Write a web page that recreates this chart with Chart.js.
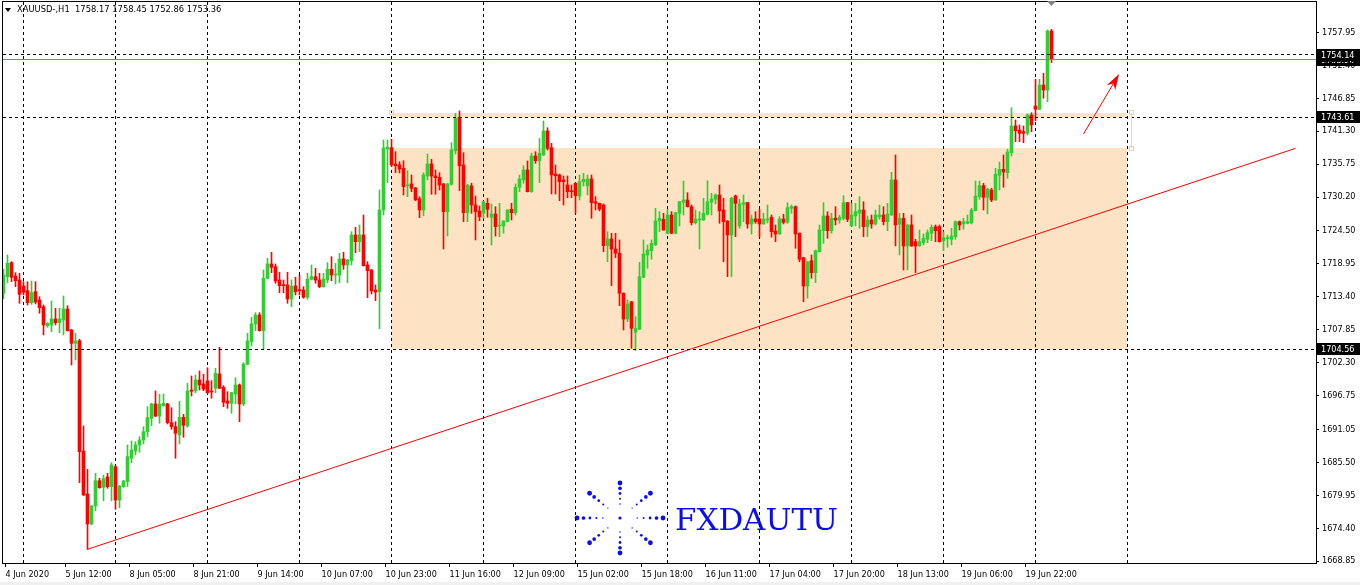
<!DOCTYPE html>
<html>
<head>
<meta charset="utf-8">
<title>XAUUSD-,H1</title>
<script src="https://cdn.jsdelivr.net/npm/chart.js@4.4.1/dist/chart.umd.min.js"></script>
<style>
  html, body { margin: 0; padding: 0; background: #fff; }
  #wrap { width: 1360px; height: 585px; }
</style>
</head>
<body>
<div id="wrap"><canvas id="xauChart" width="1360" height="585"></canvas></div>
<script>
// H1 candles, one entry per bar (bar 0 = 4 Jun 2020 late, last bar = 19 Jun 22:00)
const opens = [
  1713.98, 1716.78, 1719.14, 1716.89, 1716.22, 1715.21, 1714.42, 1712.40, 1714.25, 1712.85,
  1711.72, 1708.52, 1708.64, 1709.65, 1709.03, 1709.48, 1711.33, 1707.79, 1705.55, 1705.99,
  1687.41, 1680.16, 1675.11, 1678.14, 1682.40, 1681.29, 1683.03, 1681.39, 1684.76, 1679.15,
  1681.39, 1682.23, 1686.18, 1687.41, 1688.42, 1689.26, 1690.66, 1692.92, 1695.33, 1693.30,
  1695.04, 1695.33, 1692.18, 1691.50, 1690.10, 1693.08, 1691.62, 1697.68, 1697.57, 1699.37,
  1698.70, 1699.20, 1697.52, 1697.97, 1700.38, 1698.14, 1695.83, 1695.44, 1697.01, 1698.53,
  1695.33, 1702.02, 1705.82, 1708.81, 1710.32, 1707.68, 1716.51, 1718.92, 1718.46, 1716.22,
  1715.43, 1715.38, 1713.02, 1715.21, 1714.53, 1714.53, 1713.31, 1716.34, 1716.78, 1716.22,
  1715.09, 1716.22, 1718.02, 1717.06, 1717.06, 1719.76, 1718.75, 1719.47, 1723.80, 1722.67,
  1723.80, 1718.75, 1717.90, 1714.53, 1714.25, 1728.01, 1738.29, 1738.51, 1735.77, 1735.60,
  1735.04, 1732.11, 1732.40, 1731.72, 1729.92, 1728.01, 1733.74, 1735.77, 1733.74, 1733.52,
  1732.40, 1727.73, 1732.35, 1738.01, 1743.63, 1735.60, 1727.56, 1732.06, 1728.86, 1727.85,
  1727.46, 1729.14, 1726.79, 1727.34, 1725.32, 1725.32, 1726.04, 1728.13, 1727.56, 1731.84,
  1733.07, 1734.75, 1731.10, 1737.11, 1736.32, 1737.28, 1741.33, 1738.51, 1734.08, 1733.91,
  1733.07, 1732.23, 1731.27, 1732.51, 1730.37, 1732.78, 1732.06, 1733.24, 1729.41, 1729.14,
  1728.86, 1722.00, 1723.13, 1721.44, 1720.72, 1713.98, 1709.65, 1712.56, 1707.41, 1707.91,
  1716.68, 1720.43, 1721.16, 1722.12, 1726.16, 1726.45, 1724.09, 1727.17, 1724.09, 1727.46,
  1729.31, 1729.70, 1728.57, 1725.87, 1726.33, 1726.33, 1727.29, 1729.31, 1729.82, 1730.54,
  1728.01, 1726.16, 1723.80, 1730.37, 1725.32, 1728.97, 1729.25, 1725.66, 1726.50, 1726.50,
  1725.66, 1726.33, 1726.79, 1724.48, 1723.97, 1726.50, 1725.94, 1728.30, 1728.57, 1724.09,
  1719.98, 1715.21, 1719.47, 1717.45, 1720.99, 1724.53, 1727.00, 1724.53, 1726.62, 1726.33,
  1726.62, 1729.25, 1725.32, 1727.00, 1727.46, 1728.01, 1725.20, 1726.33, 1725.66, 1726.89,
  1727.17, 1726.04, 1727.17, 1733.07, 1725.61, 1726.62, 1721.95, 1725.49, 1722.67, 1721.95,
  1722.51, 1723.08, 1724.09, 1725.20, 1725.20, 1722.84, 1723.18, 1723.08, 1723.52, 1726.04,
  1725.66, 1725.77, 1725.87, 1727.90, 1730.26, 1732.11, 1730.15, 1731.38, 1729.70, 1733.86,
  1734.87, 1734.30, 1737.67, 1742.17, 1741.49, 1741.21, 1740.94, 1744.02, 1745.54, 1744.98,
  1749.08, 1748.23, 1758.17
];
const highs = [
  1718.02, 1720.43, 1719.30, 1717.45, 1717.35, 1715.93, 1715.93, 1716.05, 1715.93, 1713.41,
  1712.01, 1709.03, 1712.68, 1711.45, 1711.45, 1713.52, 1711.89, 1707.90, 1707.24, 1706.23,
  1691.62, 1684.32, 1678.20, 1683.65, 1682.81, 1683.36, 1683.65, 1685.44, 1684.90, 1681.60,
  1682.45, 1688.42, 1689.09, 1688.97, 1689.82, 1691.50, 1694.87, 1695.44, 1697.52, 1696.96,
  1697.01, 1695.44, 1694.70, 1692.34, 1695.78, 1693.59, 1698.81, 1700.04, 1700.21, 1700.89,
  1700.33, 1701.44, 1699.25, 1701.34, 1704.88, 1698.41, 1697.40, 1697.30, 1699.76, 1698.70,
  1702.29, 1707.24, 1709.93, 1710.71, 1710.71, 1717.90, 1719.88, 1720.89, 1718.92, 1717.52,
  1716.22, 1717.52, 1716.22, 1716.68, 1717.06, 1715.09, 1717.35, 1718.75, 1718.19, 1717.35,
  1717.35, 1719.14, 1720.15, 1719.03, 1720.72, 1720.89, 1719.70, 1724.36, 1725.10, 1725.49,
  1727.17, 1719.30, 1718.00, 1715.38, 1731.39, 1739.81, 1739.81, 1739.93, 1737.84, 1736.15,
  1736.32, 1734.64, 1733.91, 1731.80, 1730.26, 1734.30, 1737.45, 1736.56, 1734.75, 1734.30,
  1732.50, 1732.50, 1739.36, 1744.31, 1744.70, 1737.67, 1732.30, 1732.51, 1730.37, 1728.69,
  1729.50, 1729.99, 1729.03, 1728.57, 1729.14, 1726.20, 1728.05, 1729.14, 1732.40, 1733.91,
  1735.48, 1736.27, 1737.57, 1737.84, 1740.10, 1743.01, 1741.88, 1739.25, 1735.60, 1734.08,
  1733.74, 1733.74, 1732.23, 1732.60, 1733.91, 1734.20, 1733.91, 1733.91, 1730.26, 1729.20,
  1729.03, 1724.36, 1724.09, 1724.09, 1722.96, 1714.05, 1712.85, 1712.60, 1710.04, 1719.20,
  1722.96, 1722.12, 1722.96, 1728.30, 1727.73, 1727.46, 1728.13, 1727.73, 1727.60, 1729.45,
  1732.90, 1730.93, 1728.86, 1728.01, 1727.73, 1729.99, 1732.95, 1730.83, 1730.71, 1732.23,
  1729.99, 1726.20, 1730.15, 1730.54, 1729.82, 1730.54, 1729.30, 1727.17, 1727.73, 1728.13,
  1727.46, 1728.86, 1727.17, 1725.49, 1726.89, 1727.29, 1729.25, 1728.86, 1728.69, 1724.15,
  1720.05, 1719.35, 1720.43, 1721.27, 1725.49, 1729.25, 1727.73, 1727.46, 1728.57, 1727.17,
  1730.42, 1729.30, 1729.14, 1729.14, 1730.26, 1729.41, 1727.00, 1727.17, 1728.01, 1728.86,
  1728.57, 1729.14, 1734.37, 1737.28, 1727.46, 1727.46, 1725.55, 1727.17, 1723.08, 1724.64,
  1723.97, 1724.64, 1725.49, 1725.49, 1725.49, 1724.36, 1723.80, 1724.93, 1726.16, 1726.16,
  1726.62, 1727.17, 1728.30, 1732.90, 1732.90, 1732.51, 1731.67, 1731.67, 1735.04, 1736.10,
  1737.28, 1738.24, 1745.25, 1743.18, 1742.34, 1742.17, 1744.19, 1744.41, 1750.04, 1750.04,
  1751.05, 1758.35, 1758.45
];
const lows = [
  1713.07, 1715.77, 1715.93, 1715.09, 1712.29, 1713.69, 1712.01, 1712.13, 1712.18, 1710.61,
  1706.95, 1708.25, 1707.51, 1708.64, 1707.34, 1706.95, 1707.60, 1701.90, 1702.74, 1682.07,
  1679.90, 1670.84, 1675.00, 1677.35, 1681.12, 1679.03, 1681.12, 1679.03, 1677.58, 1677.85,
  1681.30, 1681.39, 1685.44, 1686.73, 1687.19, 1688.59, 1689.82, 1691.67, 1693.19, 1692.07,
  1694.95, 1691.96, 1691.06, 1686.18, 1688.59, 1689.71, 1691.40, 1696.67, 1697.23, 1697.68,
  1697.57, 1697.01, 1696.29, 1697.23, 1697.90, 1694.87, 1694.60, 1693.76, 1695.33, 1692.34,
  1695.04, 1701.95, 1705.10, 1707.68, 1707.60, 1704.54, 1716.40, 1717.45, 1715.66, 1714.08,
  1714.08, 1712.29, 1711.72, 1713.69, 1713.69, 1713.14, 1712.97, 1716.22, 1715.66, 1714.92,
  1715.00, 1715.77, 1716.10, 1715.55, 1715.77, 1718.02, 1715.77, 1718.75, 1720.82, 1720.99,
  1718.55, 1713.24, 1713.86, 1712.73, 1708.00, 1727.17, 1732.62, 1735.31, 1734.30, 1734.25,
  1730.54, 1730.26, 1731.10, 1729.60, 1726.72, 1727.05, 1733.07, 1730.66, 1730.66, 1731.38,
  1721.44, 1723.63, 1732.20, 1737.45, 1731.27, 1726.04, 1726.04, 1727.46, 1722.96, 1726.21,
  1726.62, 1726.79, 1722.12, 1723.63, 1723.52, 1724.09, 1726.00, 1726.33, 1727.17, 1731.10,
  1732.51, 1731.05, 1731.00, 1735.88, 1732.62, 1737.20, 1738.12, 1730.71, 1730.71, 1729.58,
  1728.86, 1730.09, 1730.09, 1727.46, 1729.70, 1732.06, 1730.54, 1726.62, 1728.01, 1727.85,
  1720.99, 1719.30, 1715.26, 1719.98, 1711.89, 1707.79, 1709.19, 1704.71, 1704.31, 1707.85,
  1716.60, 1718.19, 1719.71, 1722.05, 1724.36, 1724.60, 1724.00, 1724.00, 1724.00, 1725.32,
  1727.17, 1728.50, 1725.49, 1725.66, 1721.44, 1726.25, 1727.17, 1727.17, 1729.03, 1725.77,
  1719.30, 1716.78, 1716.78, 1723.52, 1724.93, 1726.04, 1724.93, 1723.97, 1725.77, 1723.42,
  1725.60, 1725.82, 1723.42, 1722.67, 1723.90, 1725.66, 1725.77, 1727.46, 1721.56, 1719.30,
  1712.56, 1713.14, 1716.51, 1715.77, 1720.90, 1722.40, 1723.25, 1724.09, 1725.49, 1725.77,
  1726.33, 1726.04, 1725.25, 1725.32, 1724.93, 1723.52, 1723.52, 1724.93, 1725.49, 1726.45,
  1725.49, 1724.53, 1727.10, 1721.95, 1720.43, 1717.90, 1717.90, 1721.90, 1717.45, 1721.90,
  1722.12, 1722.51, 1722.84, 1722.67, 1722.60, 1721.16, 1721.73, 1722.12, 1723.08, 1724.64,
  1724.76, 1725.66, 1725.66, 1727.85, 1729.82, 1728.01, 1727.34, 1729.41, 1729.65, 1731.38,
  1731.84, 1733.36, 1737.11, 1739.52, 1739.52, 1739.35, 1740.65, 1741.21, 1743.06, 1744.90,
  1746.84, 1746.26, 1752.86
];
const closes = [
  1717.06, 1719.03, 1716.68, 1716.10, 1713.81, 1714.15, 1712.40, 1714.08, 1712.51, 1711.55,
  1708.64, 1708.92, 1709.65, 1709.03, 1709.65, 1711.33, 1707.68, 1705.55, 1705.94, 1687.29,
  1679.99, 1675.11, 1678.14, 1682.40, 1681.22, 1682.74, 1681.39, 1685.05, 1679.15, 1681.51,
  1682.35, 1686.45, 1687.57, 1688.42, 1689.26, 1690.66, 1693.02, 1695.33, 1693.30, 1695.28,
  1695.44, 1692.18, 1691.50, 1690.39, 1693.08, 1691.74, 1697.52, 1697.47, 1699.37, 1698.53,
  1697.85, 1697.23, 1697.35, 1700.50, 1697.97, 1695.61, 1695.44, 1697.23, 1698.53, 1695.33,
  1702.07, 1705.94, 1708.81, 1710.32, 1707.68, 1716.51, 1718.92, 1718.36, 1716.05, 1715.26,
  1715.26, 1713.02, 1715.21, 1714.25, 1714.42, 1713.31, 1716.39, 1716.78, 1716.22, 1715.09,
  1716.39, 1718.02, 1717.06, 1717.23, 1719.76, 1718.75, 1719.59, 1723.80, 1722.67, 1723.80,
  1718.63, 1717.79, 1714.37, 1714.20, 1728.01, 1738.46, 1738.58, 1735.60, 1735.48, 1734.92,
  1731.94, 1732.28, 1731.67, 1729.70, 1728.01, 1733.91, 1735.77, 1733.74, 1733.46, 1732.23,
  1727.73, 1732.40, 1738.12, 1743.47, 1735.48, 1727.56, 1732.23, 1728.86, 1727.73, 1726.89,
  1729.41, 1728.13, 1727.34, 1725.20, 1725.49, 1726.16, 1728.01, 1727.56, 1731.84, 1733.24,
  1734.75, 1731.10, 1737.11, 1736.32, 1737.57, 1741.33, 1738.41, 1733.91, 1733.80, 1732.78,
  1732.78, 1731.10, 1731.10, 1730.42, 1732.78, 1733.19, 1733.24, 1729.25, 1729.14, 1728.18,
  1722.00, 1723.13, 1721.44, 1720.72, 1713.98, 1709.65, 1712.18, 1708.08, 1708.08, 1716.78,
  1720.60, 1721.27, 1722.40, 1726.16, 1726.62, 1724.64, 1727.17, 1724.09, 1727.56, 1729.41,
  1729.70, 1728.57, 1725.87, 1726.50, 1726.50, 1727.46, 1729.41, 1729.87, 1730.54, 1727.85,
  1726.04, 1723.80, 1729.99, 1729.14, 1729.03, 1729.25, 1725.66, 1726.50, 1726.04, 1725.66,
  1726.50, 1726.50, 1724.36, 1723.97, 1726.50, 1725.94, 1728.40, 1728.57, 1723.97, 1719.71,
  1715.21, 1719.30, 1717.45, 1721.16, 1724.64, 1727.00, 1724.53, 1726.62, 1726.33, 1726.79,
  1729.25, 1726.45, 1727.17, 1727.73, 1728.01, 1725.20, 1726.33, 1725.66, 1727.17, 1727.17,
  1726.04, 1727.34, 1733.07, 1725.49, 1726.62, 1721.95, 1725.49, 1721.95, 1721.95, 1722.67,
  1723.25, 1724.19, 1725.10, 1724.53, 1722.67, 1723.35, 1723.35, 1723.63, 1726.04, 1725.49,
  1726.04, 1726.04, 1728.01, 1730.37, 1732.11, 1730.15, 1731.50, 1729.70, 1734.03, 1734.87,
  1734.42, 1737.79, 1742.17, 1741.38, 1740.94, 1740.94, 1744.02, 1742.34, 1744.98, 1749.08,
  1748.23, 1758.17, 1753.36
];

// time axis labels (bar index where each label sits)
const tickBars = [0, 15, 31, 47, 63, 79, 95, 111, 127, 143, 159, 175, 191, 207, 223, 239, 255];
const tickLabels = ['4 Jun 2020', '5 Jun 12:00', '8 Jun 05:00', '8 Jun 21:00', '9 Jun 14:00',
  '10 Jun 07:00', '10 Jun 23:00', '11 Jun 16:00', '12 Jun 09:00', '15 Jun 02:00', '15 Jun 18:00',
  '16 Jun 11:00', '17 Jun 04:00', '17 Jun 20:00', '18 Jun 13:00', '19 Jun 06:00', '19 Jun 22:00'];
const priceTicks = [1757.95, 1752.40, 1746.85, 1741.30, 1735.75, 1730.20, 1724.50, 1718.95,
  1713.40, 1707.85, 1702.30, 1696.75, 1691.05, 1685.50, 1679.95, 1674.40, 1668.85];
const gridBars = [5, 28, 51, 74, 97, 120, 143, 166, 189, 212, 235, 258, 281];

// drawn objects
const levelPrices = [1754.14, 1743.61, 1704.56];
const bidPrice = 1753.36;
const trendBars = [21, 323];
const trendPrices = [1670.84, 1738.40];
const zoneBars = [96.9, 280.9];
const zonePrices = [1738.46, 1704.56];
const stripPrices = [1744.36, 1743.61];
const arrowBars = [270, 278.9];
const arrowPrices = [1740.82, 1750.93];

const FONT = "'DejaVu Sans Condensed', 'DejaVu Sans', sans-serif";
const UP = '#32cd32', DOWN = '#ff0000';
const crisp = v => Math.floor(v) + 0.5;

const barIdx = opens.map((_, i) => i);
const candleColors = barIdx.map(i => closes[i] >= opens[i] ? UP : DOWN);

function drawLogo(ctx) {
  const cx = 620, cy = 518, rx = 43, ry = 35;
  ctx.fillStyle = '#0c0cf0';
  for (let k = 0; k < 8; k++) {
    const a = k * Math.PI / 4;
    [1, 0.85, 0.7, 0.55, 0.4].forEach(t => {
      ctx.beginPath();
      ctx.arc(cx + Math.cos(a) * rx * t, cy + Math.sin(a) * ry * t, 0.4 + 2.0 * t * t, 0, Math.PI * 2);
      ctx.fill();
    });
  }
  ctx.beginPath(); ctx.arc(cx, cy, 1.6, 0, Math.PI * 2); ctx.fill();
  ctx.font = "30px 'DejaVu Serif', serif";
  ctx.textBaseline = 'alphabetic';
  const w = ctx.measureText('FXDAUTU').width;
  ctx.save();
  ctx.translate(675, 530);
  ctx.scale(163 / w, 0.97);
  ctx.fillText('FXDAUTU', 0, 0);
  ctx.restore();
}

function priceBox(ctx, yPix, text) {
  ctx.fillStyle = '#000';
  ctx.fillRect(1317, Math.round(yPix) - 6, 43, 12);
  ctx.fillStyle = '#fff';
  ctx.font = '9px ' + FONT;
  ctx.textBaseline = 'middle';
  ctx.textAlign = 'left';
  ctx.fillText(text, 1321, Math.round(yPix) + 0.5);
}

const mtDecor = {
  id: 'mtDecor',
  beforeDraw(chart) {
    const { ctx, scales: { x, y } } = chart;
    ctx.save();
    ctx.fillStyle = '#fff';
    ctx.fillRect(0, 0, chart.width, chart.height);
    ctx.fillStyle = '#f0f0f0';
    ctx.fillRect(0, chart.height - 3, chart.width, 3);
    // support / resistance zone
    ctx.fillStyle = '#fde3c4';
    const zx0 = x.getPixelForValue(zoneBars[0]), zx1 = x.getPixelForValue(zoneBars[1]);
    let y0 = y.getPixelForValue(zonePrices[0]), y1 = y.getPixelForValue(zonePrices[1]);
    ctx.fillRect(zx0, y0, zx1 - zx0, y1 - y0);
    y0 = y.getPixelForValue(stripPrices[0]); y1 = y.getPixelForValue(stripPrices[1]);
    ctx.fillRect(zx0, y0, zx1 - zx0, y1 - y0);
    drawLogo(ctx);
    // bid label sits under the axis tick text
    priceBox(ctx, y.getPixelForValue(bidPrice), bidPrice.toFixed(2));
    ctx.restore();
  },
  beforeDatasetsDraw(chart) {
    const { ctx, chartArea: a, scales: { x } } = chart;
    ctx.save();
    ctx.strokeStyle = '#000';
    ctx.lineWidth = 1;
    ctx.setLineDash([3, 3]);
    gridBars.forEach(b => {
      const px = crisp(x.getPixelForValue(b));
      ctx.beginPath(); ctx.moveTo(px, a.top); ctx.lineTo(px, a.bottom); ctx.stroke();
    });
    ctx.restore();
  },
  afterDatasetsDraw(chart) {
    const { ctx, chartArea: a, scales: { x, y } } = chart;
    ctx.save();
    ctx.lineWidth = 1;
    // bid line
    ctx.strokeStyle = '#778899';
    let py = crisp(y.getPixelForValue(bidPrice));
    ctx.beginPath(); ctx.moveTo(a.left, py); ctx.lineTo(a.right, py); ctx.stroke();
    // horizontal levels
    ctx.strokeStyle = '#000';
    ctx.setLineDash([3, 3]);
    levelPrices.forEach(p => {
      py = crisp(y.getPixelForValue(p));
      ctx.beginPath(); ctx.moveTo(a.left, py); ctx.lineTo(a.right, py); ctx.stroke();
    });
    ctx.setLineDash([]);
    // selected rectangle handles
    ctx.strokeStyle = '#f7d3a8';
    const hx = crisp(x.getPixelForValue(zoneBars[1]) + 4);
    const hy0 = y.getPixelForValue(stripPrices[0]), hy1 = y.getPixelForValue(zonePrices[0]);
    ctx.beginPath(); ctx.moveTo(hx, hy0); ctx.lineTo(hx, hy1); ctx.stroke();
    ctx.strokeRect(hx - 2, Math.round(hy0) - 2.5, 4, 4);
    ctx.strokeRect(hx - 2, Math.round(hy1) - 1.5, 4, 4);
    ctx.strokeRect(crisp(x.getPixelForValue(zoneBars[0])) - 2, Math.round(hy0) - 2.5, 4, 4);
    // arrow
    const ax0 = x.getPixelForValue(arrowBars[0]), ay0 = y.getPixelForValue(arrowPrices[0]);
    const ax1 = x.getPixelForValue(arrowBars[1]), ay1 = y.getPixelForValue(arrowPrices[1]);
    const ang = Math.atan2(ay1 - ay0, ax1 - ax0);
    ctx.strokeStyle = DOWN; ctx.fillStyle = DOWN;
    ctx.beginPath(); ctx.moveTo(ax0, ay0); ctx.lineTo(ax1 - 8 * Math.cos(ang), ay1 - 8 * Math.sin(ang)); ctx.stroke();
    const hl = 16, hw = 5;
    ctx.beginPath();
    ctx.moveTo(ax1, ay1);
    ctx.lineTo(ax1 - hl * Math.cos(ang) + hw * Math.sin(ang), ay1 - hl * Math.sin(ang) - hw * Math.cos(ang));
    ctx.lineTo(ax1 - hl * 0.7 * Math.cos(ang), ay1 - hl * 0.7 * Math.sin(ang));
    ctx.lineTo(ax1 - hl * Math.cos(ang) - hw * Math.sin(ang), ay1 - hl * Math.sin(ang) + hw * Math.cos(ang));
    ctx.closePath(); ctx.fill();
    ctx.restore();
  },
  afterDraw(chart) {
    const { ctx, chartArea: a, scales: { x, y } } = chart;
    ctx.save();
    // chart frame
    ctx.strokeStyle = '#000';
    ctx.lineWidth = 1;
    ctx.strokeRect(a.left - 0.5, a.top - 0.5, a.right - a.left + 1, a.bottom - a.top + 1);
    // level labels on the price axis
    levelPrices.forEach(p => priceBox(ctx, y.getPixelForValue(p), p.toFixed(2)));
    // shift marker above last bar
    const lx = x.getPixelForValue(opens.length - 1);
    ctx.fillStyle = '#808080';
    ctx.beginPath(); ctx.moveTo(lx - 4.5, a.top - 1); ctx.lineTo(lx + 4.5, a.top - 1); ctx.lineTo(lx, a.top + 4); ctx.closePath(); ctx.fill();
    // header
    ctx.fillStyle = '#000';
    ctx.beginPath(); ctx.moveTo(5, 8); ctx.lineTo(11, 8); ctx.lineTo(8, 12); ctx.closePath(); ctx.fill();
    const last = opens.length - 1;
    ctx.font = '9.3px ' + FONT;
    ctx.textBaseline = 'middle';
    ctx.fillText('XAUUSD-,H1  ' + [opens[last], highs[last], lows[last], closes[last]].map(v => v.toFixed(2)).join(' '), 17, 10);
    ctx.restore();
  }
};

Chart.defaults.font.family = FONT;
Chart.defaults.font.size = 9;
Chart.defaults.color = '#000';

new Chart(document.getElementById('xauChart'), {
  type: 'bar',
  data: {
    datasets: [
      {
        type: 'line',
        label: 'trend',
        data: trendBars.map((b, k) => ({ x: b, y: trendPrices[k] })),
        borderColor: DOWN,
        borderWidth: 1,
        pointRadius: 0,
        fill: false,
        order: 1
      },
      {
        label: 'wicks',
        data: barIdx.map(i => ({ x: i, y: [lows[i], highs[i]] })),
        backgroundColor: candleColors,
        barThickness: 1,
        grouped: false,
        order: 3
      },
      {
        label: 'bodies',
        data: barIdx.map(i => ({ x: i, y: [opens[i], closes[i]] })),
        backgroundColor: candleColors,
        barThickness: 3,
        minBarLength: 1,
        grouped: false,
        order: 2
      }
    ]
  },
  options: {
    responsive: false,
    animation: false,
    devicePixelRatio: 1,
    layout: { padding: { left: 3, top: 2, right: 0, bottom: 0 } },
    plugins: { legend: { display: false }, tooltip: { enabled: false } },
    scales: {
      x: {
        type: 'linear',
        offset: false,
        min: -0.125,
        max: 328.125,
        afterBuildTicks: s => { s.ticks = tickBars.map(b => ({ value: b + 0.5 })); },
        afterFit: s => { s.height = 22; s.paddingLeft = 0; s.paddingRight = 0; },
        ticks: {
          autoSkip: false,
          maxRotation: 0,
          align: 'start',
          padding: 2,
          callback: (v, i) => tickLabels[i]
        },
        grid: { offset: false, drawOnChartArea: false, drawTicks: true, tickLength: 4, color: '#000' },
        border: { display: false }
      },
      y: {
        type: 'linear',
        position: 'right',
        min: 1668.53,
        max: 1763.06,
        afterBuildTicks: s => { s.ticks = priceTicks.map(v => ({ value: v })); },
        afterFit: s => { s.width = 44; s.paddingTop = 0; s.paddingBottom = 0; },
        ticks: {
          autoSkip: false,
          padding: 3,
          callback: v => v.toFixed(2)
        },
        grid: { drawOnChartArea: false, drawTicks: true, tickLength: 3, color: '#000' },
        border: { display: false }
      }
    }
  },
  plugins: [mtDecor]
});
</script>
</body>
</html>
